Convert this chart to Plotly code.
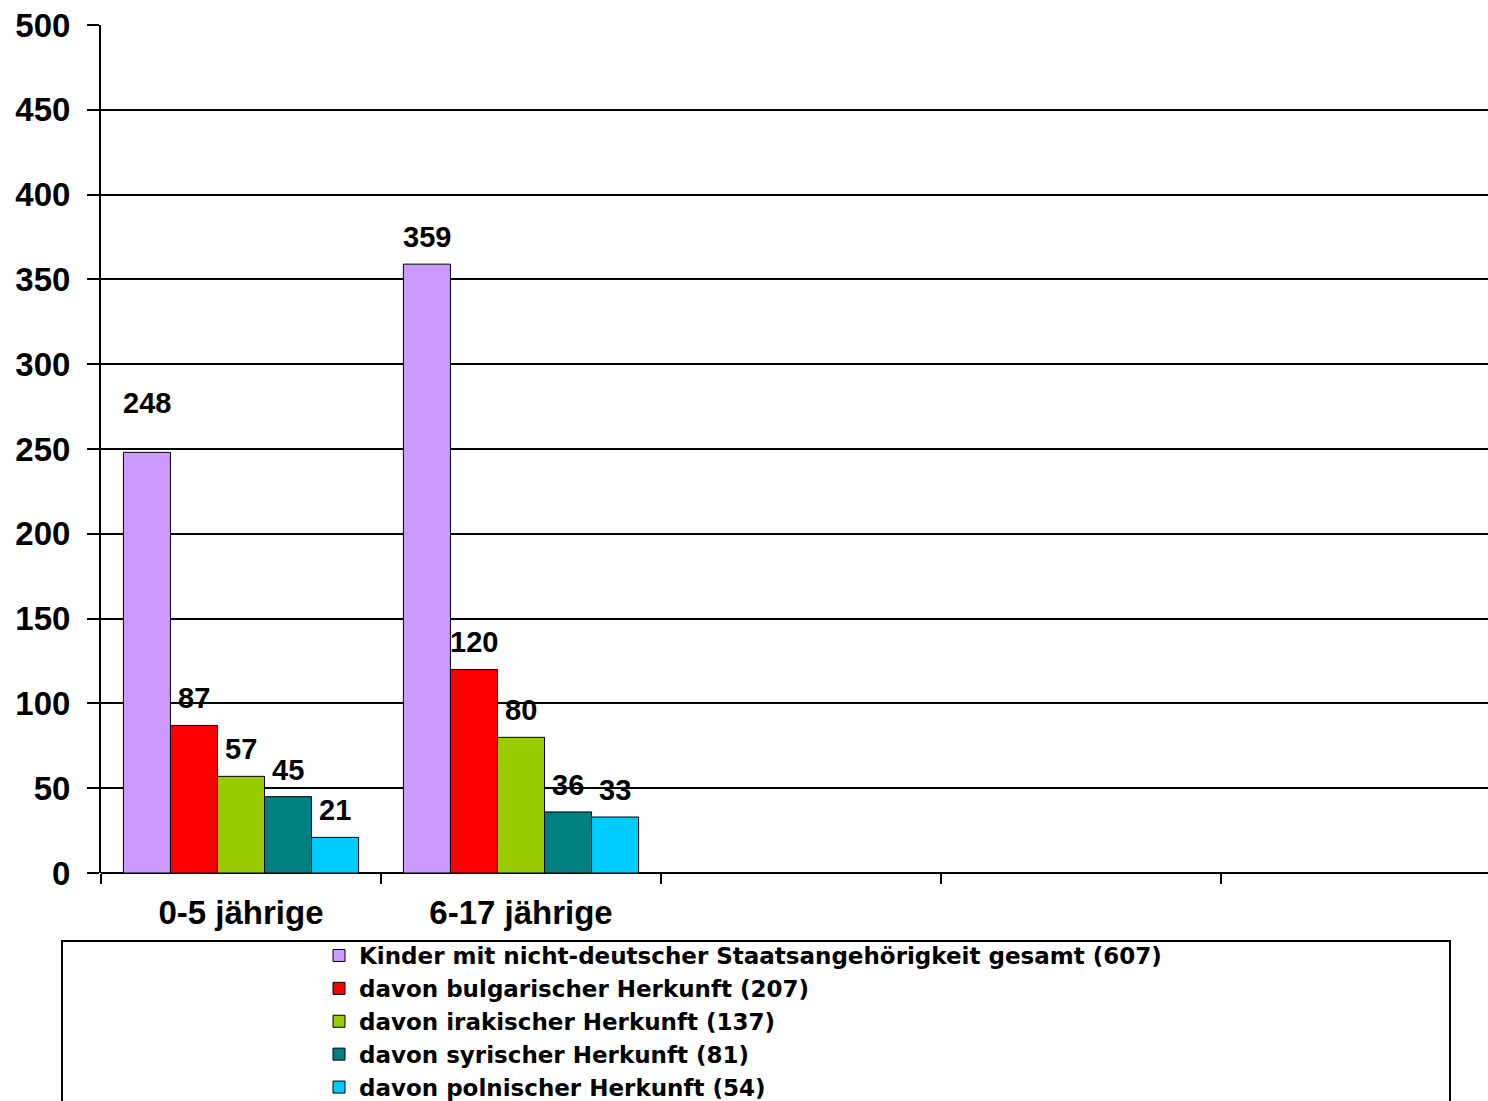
import plotly.graph_objects as go

categories = ["0-5 jährige", "6-17 jährige", " ", "  ", "   "]
series_names = [
    "Kinder mit nicht-deutscher Staatsangehörigkeit gesamt (607)",
    "davon bulgarischer Herkunft (207)",
    "davon irakischer Herkunft (137)",
    "davon syrischer Herkunft (81)",
    "davon polnischer Herkunft (54)",
]
gesamt = [248, 359, None, None, None]
bulgarisch = [87, 120, None, None, None]
irakisch = [57, 80, None, None, None]
syrisch = [45, 36, None, None, None]
polnisch = [21, 33, None, None, None]
series_values = [gesamt, bulgarisch, irakisch, syrisch, polnisch]
y_ticks = [0, 50, 100, 150, 200, 250, 300, 350, 400, 450, 500]

colors = ["#CC99FF", "#FF0000", "#99CC00", "#008080", "#00CCFF"]
FONT = "Liberation Sans, Arial, sans-serif"
LEGEND_FONT = "DejaVu Sans, Liberation Sans, Arial, sans-serif"
BARGAP = 0.16

fig = go.Figure()
for name, vals, col in zip(series_names, series_values, colors):
    fig.add_trace(go.Bar(
        x=categories, y=vals, name=name,
        marker=dict(color=col, line=dict(color="black", width=1)),
    ))

# data labels placed above bars (derived from data + group geometry)
n = len(series_values)
bw = (1 - BARGAP) / n
extra_shift = {(0, 0): 22}
for i, vals in enumerate(series_values):
    for c, v in enumerate(vals):
        if v is None:
            continue
        xc = c - (1 - BARGAP) / 2 + bw * (i + 0.5)
        fig.add_annotation(
            x=xc, y=v, xref="x", yref="y", text=str(v), showarrow=False,
            yanchor="middle", yshift=27 + extra_shift.get((i, c), 0),
            font=dict(family=FONT, size=29, color="black", weight="bold"),
        )

W, H = 1488, 1101
L, R, T, B = 101, 0, 25, 228
pw, ph = W - L - R, H - T - B

def px_x(p):
    return (p - L) / pw

def px_y(p):
    return (H - B - p) / ph

# legend frame
fig.add_shape(type="rect", xref="paper", yref="paper",
              x0=px_x(62), x1=px_x(1450), y0=px_y(1115), y1=px_y(941),
              line=dict(color="black", width=2), fillcolor="rgba(0,0,0,0)")

fig.update_layout(
    width=W, height=H,
    margin=dict(l=L, r=R, t=T, b=B, pad=0, autoexpand=False),
    paper_bgcolor="white", plot_bgcolor="white",
    barmode="group", bargap=BARGAP, bargroupgap=0,
    font=dict(family=FONT, color="black"),
    showlegend=True,
    legend=dict(
        xref="container", yref="container",
        x=319 / W, y=1 - 934 / H, xanchor="left", yanchor="top",
        bgcolor="rgba(0,0,0,0)", borderwidth=0,
        font=dict(family=LEGEND_FONT, size=23, color="black", weight="bold"),
        itemwidth=30, tracegroupgap=0,
    ),
    xaxis=dict(
        range=[-0.5, -0.5 + pw / 280.0],
        showgrid=False, zeroline=False,
        showline=False,
        ticks="outside", ticklen=10, tickwidth=2, tickcolor="black",
        tickson="boundaries",
        tickfont=dict(family=FONT, size=33, color="black", weight="bold"),
        ticklabelstandoff=17,
        fixedrange=True,
    ),
    yaxis=dict(
        range=[0, 500], tickvals=y_ticks,
        showgrid=True, gridcolor="black", gridwidth=2,
        zeroline=True, zerolinecolor="black", zerolinewidth=2,
        showline=True, linecolor="black", linewidth=2,
        ticks="outside", ticklen=12, tickwidth=2, tickcolor="black",
        tickfont=dict(family=FONT, size=33, color="black", weight="bold"),
        ticklabelstandoff=10,
        fixedrange=True,
    ),
)

page_fix = (
    "document.documentElement.style.margin='0';"
    "document.documentElement.style.padding='0';"
    "document.documentElement.style.overflow='hidden';"
    "document.body.style.margin='0';"
    "document.body.style.padding='0';"
    "document.body.style.overflow='hidden';"
)
fig.write_html("out.html", post_script=page_fix, config={"displayModeBar": False})
